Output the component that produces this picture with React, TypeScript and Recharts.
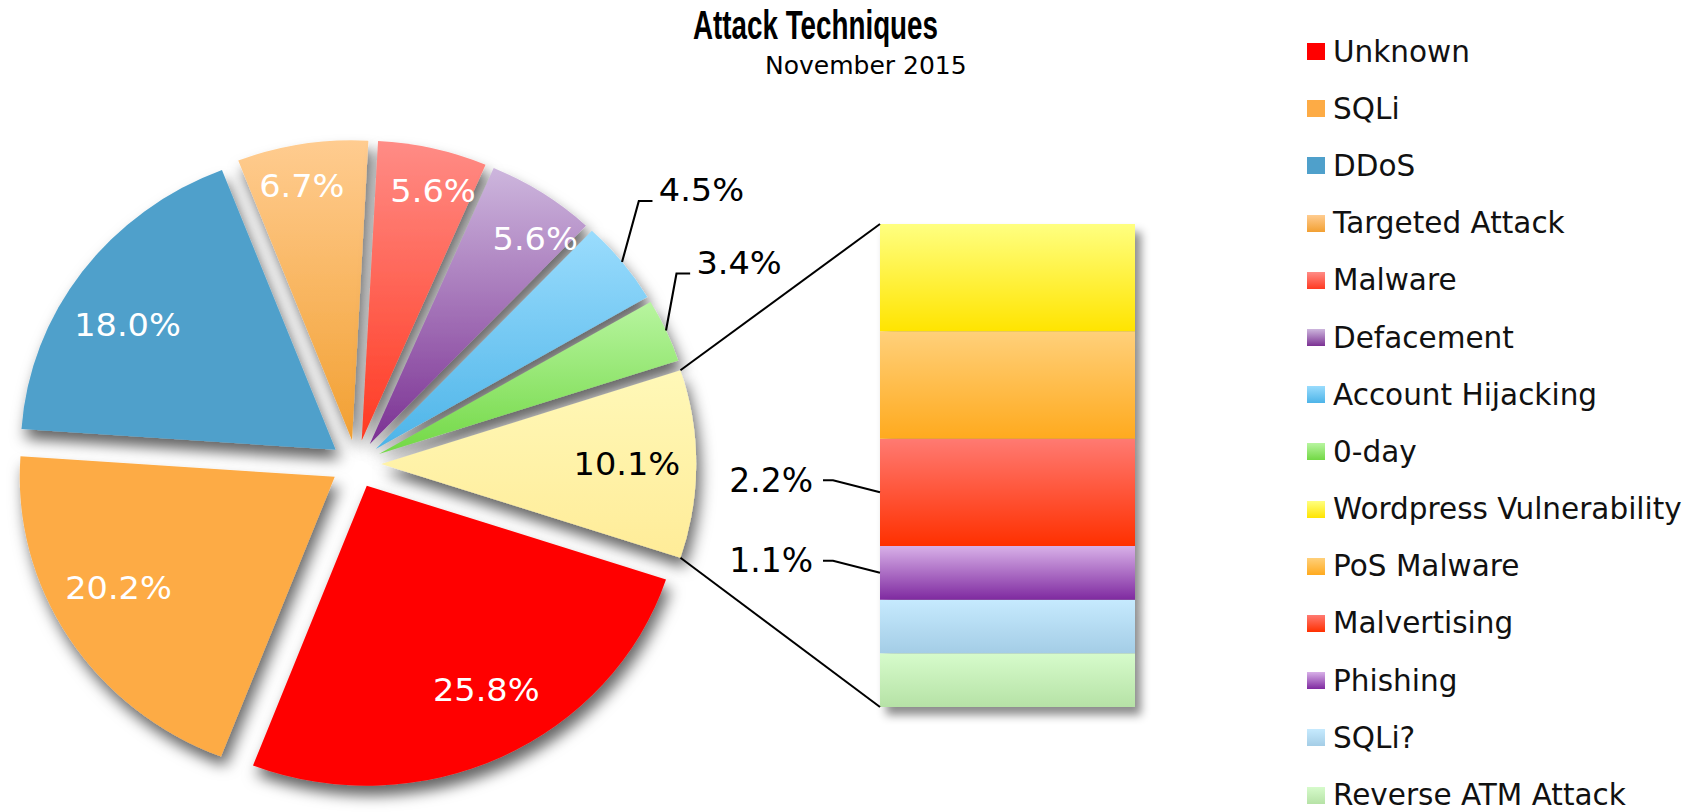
import React from "react";
import { PieChart, Pie, Cell, BarChart, Bar, XAxis, YAxis, Legend } from "recharts";

// pie: main categories, "Other" is broken out into the bar on the right
const pieNames = [
  "Unknown",
  "SQLi",
  "DDoS",
  "Targeted Attack",
  "Malware",
  "Defacement",
  "Account Hijacking",
  "0-day",
  "Other",
];
const pieValues = [25.8, 20.2, 18.0, 6.7, 5.6, 5.6, 4.5, 3.4, 10.1];

// bar: breakdown of "Other", top to bottom
const barNames = [
  "Wordpress Vulnerability",
  "PoS Malware",
  "Malvertising",
  "Phishing",
  "SQLi?",
  "Reverse ATM Attack",
];
const barValues = [2.2, 2.2, 2.2, 1.1, 1.1, 1.1];
const barShowLabel = [false, false, true, true, false, false];

// [top, bottom] gradient stops
const pieColors = [
  ["#ff0000", "#ff0000"],
  ["#fdab45", "#fdab45"],
  ["#4fa0cb", "#4fa0cb"],
  ["#ffcc90", "#f2a032"],
  ["#ff8c86", "#ff3a22"],
  ["#cdb6dd", "#7b3193"],
  ["#9adcfd", "#4db4e8"],
  ["#b8f5a0", "#72d845"],
  ["#fff8b8", "#ffec98"],
];
const barColors = [
  ["#ffff80", "#ffe400"],
  ["#ffd07a", "#ffaa1e"],
  ["#ff7a72", "#ff3000"],
  ["#d8b0e8", "#7f2aa0"],
  ["#c6eafe", "#a4cde6"],
  ["#d6fbcb", "#b6e2a6"],
];

const legendNames = [...pieNames.slice(0, 8), ...barNames];
const legendColors = [...pieColors.slice(0, 8), ...barColors];

// layout
const W = 1706;
const H = 812;
const CX = 356;
const CY = 464;
const R = 300;
const EXPLODE = 24;
const STRETCH = 1.05; // the original pie is slightly wider than tall
const BAR_LEFT = 880;
const BAR_TOP = 224;
const BAR_W = 255;
const BAR_H = 483;
const FONT = "'DejaVu Sans', Verdana, sans-serif";
const RAD = Math.PI / 180;

const pieData = pieNames.map((name, i) => ({ name, value: pieValues[i] }));
const pieTotal = pieValues.reduce((a, b) => a + b, 0);
// put "Other" centred on 3 o'clock, go clockwise from Unknown
const startAngle = -(pieValues[8] / pieTotal) * 180;
const midAngles: number[] = [];
{
  let acc = startAngle;
  pieValues.forEach((v) => {
    const span = (v / pieTotal) * 360;
    midAngles.push(acc - span / 2);
    acc -= span;
  });
}

const barKeys = barNames.map((_, i) => "b" + i);
const barRow: Record<string, number | string> = { name: "Other" };
barKeys.forEach((k, i) => (barRow[k] = barValues[i]));
const barTotal = barValues.reduce((a, b) => a + b, 0);

// leader offsets for the two outside labels (dx,dy to elbow)
const outside: Record<number, [number, number]> = { 6: [16, -61], 7: [10, -57] };

function renderPieLabel(props: any) {
  const { cx, cy, midAngle, index, value } = props;
  const cos = Math.cos(midAngle * RAD);
  const sin = Math.sin(midAngle * RAD);
  const ex = cx + EXPLODE * cos;
  const ey = cy - EXPLODE * sin;
  const text = Number(value).toFixed(1) + "%";
  if (outside[index]) {
    const sx = ex + R * cos;
    const sy = ey - R * sin;
    const [dx, dy] = outside[index];
    return (
      <g key={"l" + index}>
        <polyline
          points={`${sx},${sy} ${sx + dx},${sy + dy} ${sx + dx + 13},${sy + dy}`}
          fill="none"
          stroke="#000"
          strokeWidth={2}
        />
        <text x={sx + dx + 19} y={sy + dy} fontSize={32} fontFamily={FONT} fill="#000">
          {text}
        </text>
      </g>
    );
  }
  const rr = value >= 9 ? 234 : 258;
  const lx = cos;
  const ly = sin * 0.85;
  const n = Math.hypot(lx, ly);
  return (
    <text
      key={"l" + index}
      x={ex + (rr * lx) / n}
      y={ey - (rr * ly) / n}
      textAnchor="middle"
      dominantBaseline="central"
      fontSize={32}
      fontFamily={FONT}
      fill={index === 8 ? "#000" : "#fff"}
    >
      {text}
    </text>
  );
}

function renderLegend() {
  return (
    <div style={{ paddingTop: 23 }}>
      {legendNames.map((name, i) => (
        <div
          key={name}
          style={{ height: 57.2, display: "flex", alignItems: "center", fontFamily: FONT, fontSize: 29.5, color: "#111" }}
        >
          <span
            style={{
              width: 18,
              height: 17,
              marginRight: 8,
              background: `linear-gradient(${legendColors[i][0]}, ${legendColors[i][1]})`,
              display: "inline-block",
            }}
          />
          {name}
        </div>
      ))}
    </div>
  );
}

export default function App() {
  const otherMid = midAngles[8];
  const oex = CX + EXPLODE * Math.cos(otherMid * RAD);
  const oey = CY - EXPLODE * Math.sin(otherMid * RAD);
  const half = (pieValues[8] / pieTotal) * 180;
  const cornerX = CX + (oex + R * Math.cos(half * RAD) - CX) * STRETCH;
  const cornerDy = R * Math.sin(half * RAD);

  const barLeaders = barValues.map((v, i) => {
    const below = barValues.slice(i + 1).reduce((a, b) => a + b, 0);
    const y = BAR_TOP + BAR_H * (1 - (below + v / 2) / barTotal);
    return { v, y, show: barShowLabel[i] };
  });

  return (
    <div style={{ position: "relative", width: W, height: H, background: "#fff" }}>
      <style>{`body{margin:0}
.pie-wrap path.recharts-sector{filter:url(#pieShadow)}
.pie-wrap svg.recharts-surface{transform:scaleX(${STRETCH});transform-origin:${CX}px 0}`}</style>
      <div className="pie-wrap" style={{ position: "absolute", left: 0, top: 0 }}>
        <PieChart width={W} height={H} margin={{ top: 0, right: 0, bottom: 0, left: 0 }}>
          <defs>
            <filter id="pieShadow" x="-30%" y="-30%" width="160%" height="160%">
              <feDropShadow dx="4" dy="10" stdDeviation="7" floodColor="#000" floodOpacity="0.6" />
            </filter>
            {pieColors.map((c, i) => (
              <linearGradient key={i} id={"pg" + i} x1="0" y1="0" x2="0" y2="1">
                <stop offset="0%" stopColor={c[0]} />
                <stop offset="100%" stopColor={c[1]} />
              </linearGradient>
            ))}
          </defs>
          {pieValues.map((_, i) => (
            <Pie
              key={i}
              data={pieData}
              dataKey="value"
              nameKey="name"
              cx={CX + EXPLODE * Math.cos(midAngles[i] * RAD)}
              cy={CY - EXPLODE * Math.sin(midAngles[i] * RAD)}
              outerRadius={R}
              startAngle={startAngle}
              endAngle={startAngle - 360}
              stroke="none"
              labelLine={false}
              isAnimationActive={false}
            >
              {pieData.map((d, j) => (
                <Cell key={d.name} fill={j === i ? `url(#pg${j})` : "transparent"} />
              ))}
            </Pie>
          ))}
          <Pie
            data={pieData}
            dataKey="value"
            nameKey="name"
            cx={CX}
            cy={CY}
            outerRadius={R}
            startAngle={startAngle}
            endAngle={startAngle - 360}
            fill="transparent"
            stroke="none"
            labelLine={false}
            label={renderPieLabel}
            isAnimationActive={false}
          />
          <Legend
            layout="vertical"
            align="right"
            verticalAlign="top"
            content={renderLegend}
            wrapperStyle={{ left: 1307, top: 0, width: 399 }}
          />
        </PieChart>
      </div>

      <div
        style={{
          position: "absolute",
          left: BAR_LEFT,
          top: BAR_TOP,
          filter: "drop-shadow(6px 8px 5px rgba(0,0,0,0.45))",
        }}
      >
        <BarChart width={BAR_W} height={BAR_H} data={[barRow]} margin={{ top: 0, right: 0, bottom: 0, left: 0 }} barCategoryGap={0} barGap={0}>
          <defs>
            {barColors.map((c, i) => (
              <linearGradient key={i} id={"bg" + i} x1="0" y1="0" x2="0" y2="1">
                <stop offset="0%" stopColor={c[0]} />
                <stop offset="100%" stopColor={c[1]} />
              </linearGradient>
            ))}
          </defs>
          <XAxis dataKey="name" hide />
          <YAxis hide domain={[0, barTotal]} allowDataOverflow />
          {barKeys
            .map((k, i) => (
              <Bar key={k} dataKey={k} name={barNames[i]} stackId="other" fill={`url(#bg${i})`} isAnimationActive={false} />
            ))
            .reverse()}
        </BarChart>
      </div>

      <svg width={W} height={H} style={{ position: "absolute", left: 0, top: 0, pointerEvents: "none" }}>
        <text x={693} y={39} fontSize={40} fontWeight="bold" fontFamily="'Liberation Sans Narrow', 'Liberation Sans', Arial, sans-serif" textLength={245} lengthAdjust="spacingAndGlyphs" fill="#000">
          Attack Techniques
        </text>
        <text x={765} y={74} fontSize={25} fontFamily={FONT} fill="#000">
          November 2015
        </text>
        <line x1={cornerX} y1={oey - cornerDy} x2={BAR_LEFT} y2={BAR_TOP} stroke="#000" strokeWidth={2} />
        <line x1={cornerX} y1={oey + cornerDy} x2={BAR_LEFT} y2={BAR_TOP + BAR_H} stroke="#000" strokeWidth={2} />
        {barLeaders.map((b, i) =>
          b.show ? (
            <g key={i}>
              <polyline
                points={`${BAR_LEFT - 57},${b.y - 12} ${BAR_LEFT - 47},${b.y - 12} ${BAR_LEFT},${b.y}`}
                fill="none"
                stroke="#000"
                strokeWidth={2}
              />
              <text x={BAR_LEFT - 67} y={b.y - 12} textAnchor="end" dominantBaseline="central" fontSize={33} fontFamily={FONT} fill="#000">
                {b.v.toFixed(1) + "%"}
              </text>
            </g>
          ) : null
        )}
      </svg>
    </div>
  );
}
